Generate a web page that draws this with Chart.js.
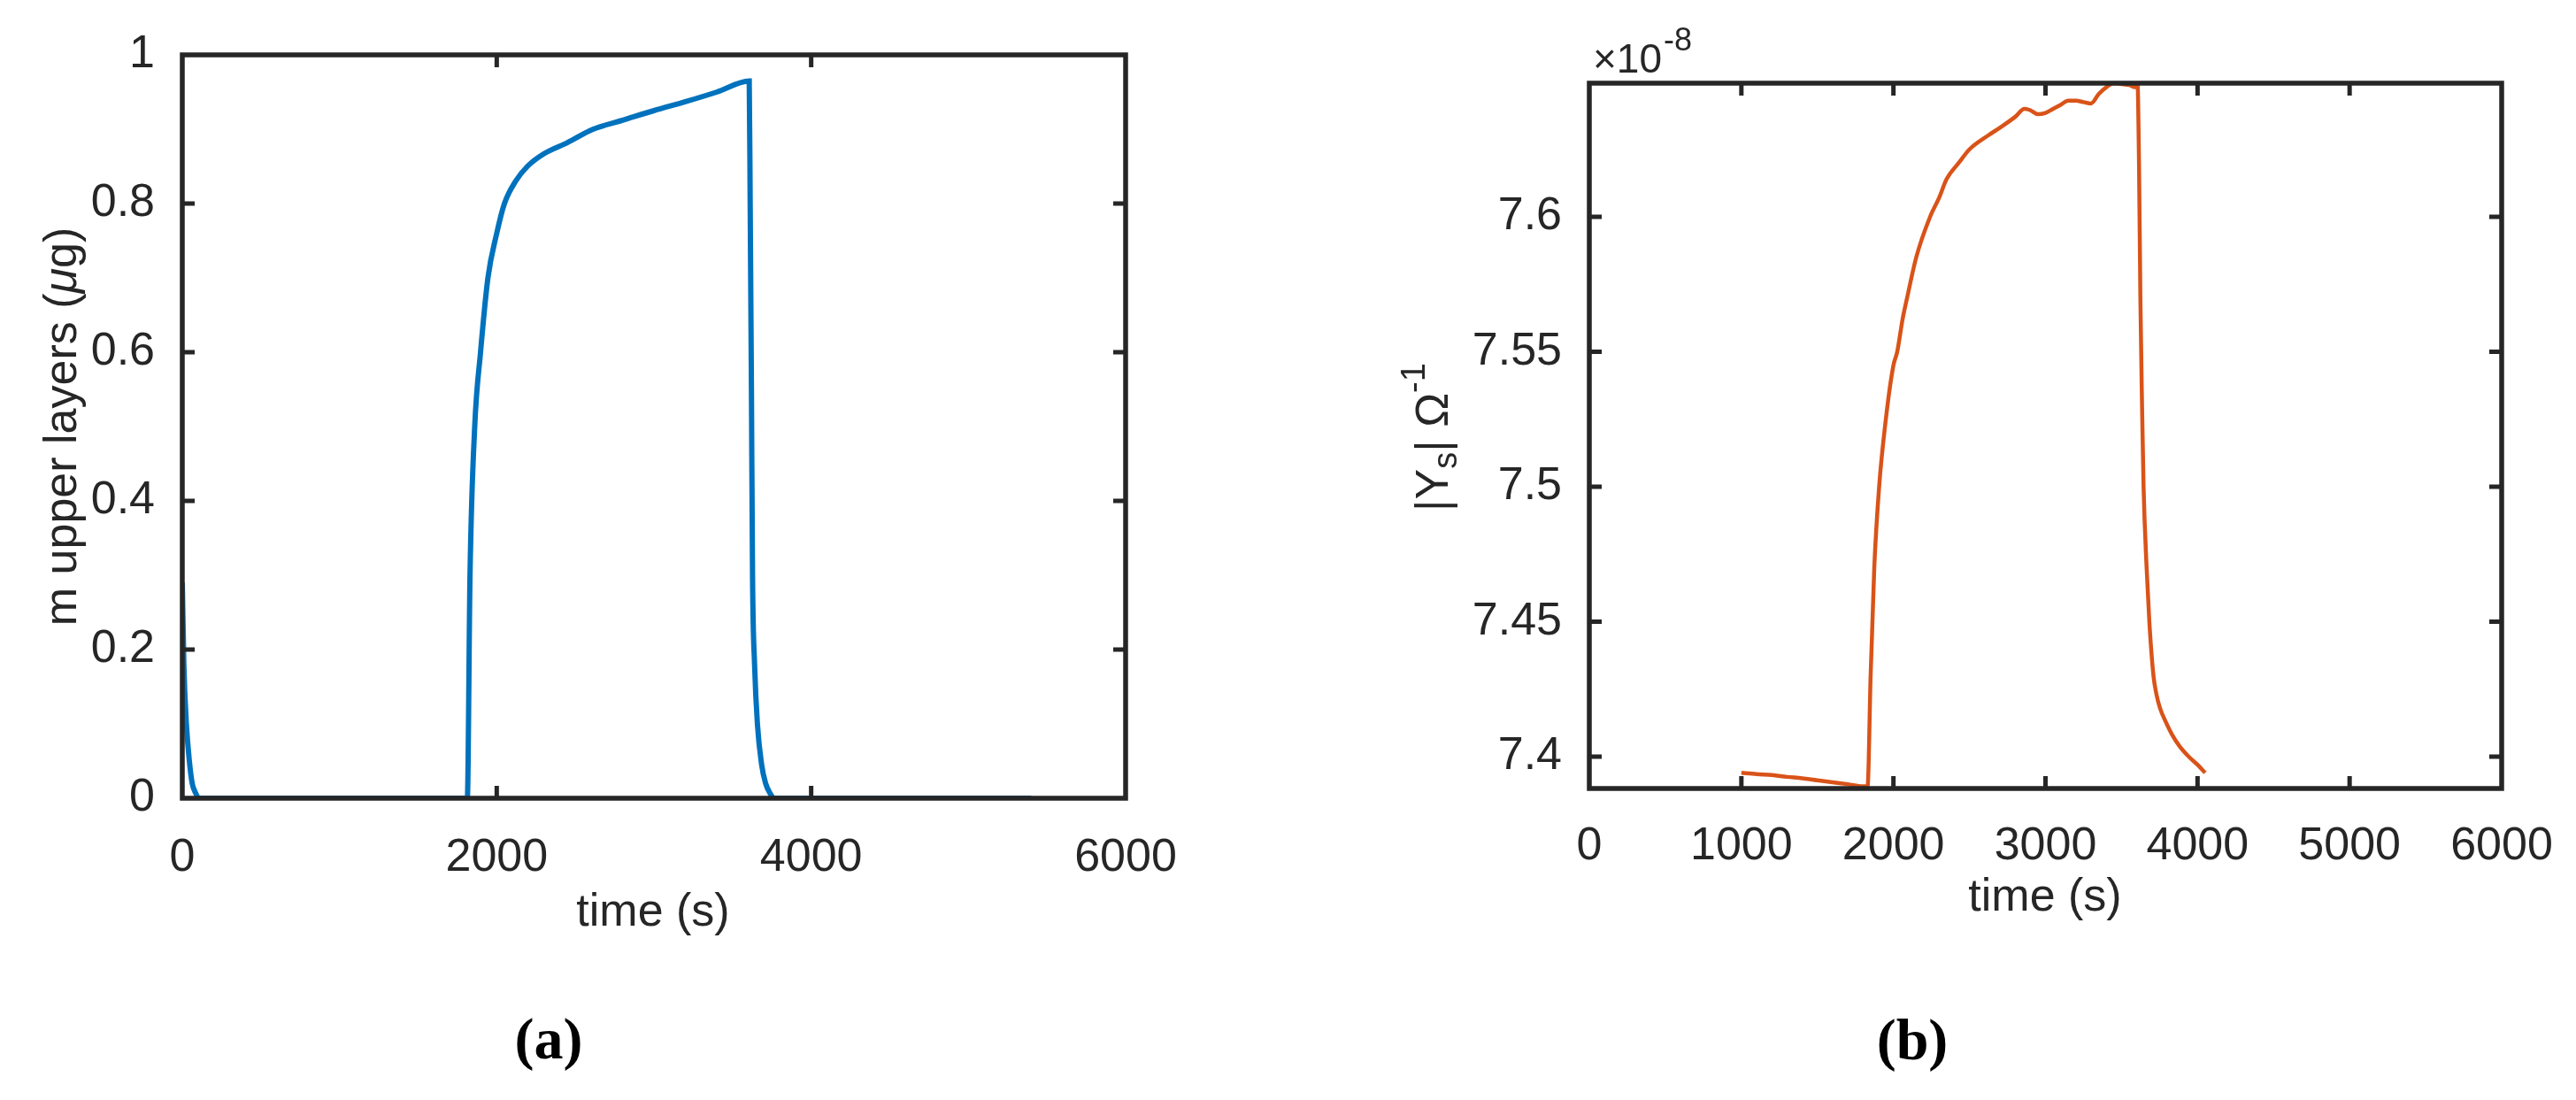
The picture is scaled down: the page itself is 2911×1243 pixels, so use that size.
<!DOCTYPE html>
<html><head><meta charset="utf-8">
<script src="https://cdn.jsdelivr.net/npm/chart.js@4/dist/chart.umd.min.js"></script>
<style>html,body{margin:0;padding:0;background:#fff;width:2911px;height:1243px;overflow:hidden}
canvas{position:absolute;left:0;top:0}</style></head>
<body>
<canvas id="ca" width="2911" height="1243"></canvas>
<canvas id="cb" width="2911" height="1243"></canvas>
<script>
// ---- data (a) ----
const timeA = [0,10,26,45,63,85,105,1000,1800,1813,1830,1860,1897,1944,2000,2049,2120,2195,2300,2450,2613,2800,3000,3200,3400,3606,3612,3620,3627,3640,3658,3685,3710,3740,3763,4500,5400];
const massA = [0.29,0.18,0.1,0.05,0.02,0.007,0,0,0,0,0.3,0.5,0.6,0.7,0.76,0.8,0.83,0.85,0.867,0.882,0.9,0.912,0.925,0.937,0.95,0.965,0.8,0.55,0.3,0.18,0.1,0.045,0.02,0.006,0,0,0];
const xTicksA = [0,2000,4000,6000];
const yTicksA = [0,0.2,0.4,0.6,0.8,1];
const yTickLabelsA = ["0","0.2","0.4","0.6","0.8","1"];
// ---- data (b) ----
const timeB = [1000,1100,1200,1300,1400,1500,1600,1700,1800,1830,1850,1874,1906,1950,2000,2025,2060,2090,2150,2241,2300,2350,2430,2500,2619,2700,2800,2862,2900,2950,3000,3050,3100,3150,3200,3250,3300,3350,3400,3450,3500,3550,3590,3605,3615,3624,3635,3645,3665,3683,3710,3730,3753,3790,3834,3880,3942,4000,4050];
const admB = [7.394,7.3935,7.3932,7.3925,7.392,7.3912,7.3905,7.3898,7.389,7.389,7.43,7.47,7.5,7.525,7.545,7.55,7.562,7.57,7.585,7.6,7.607,7.614,7.62,7.625,7.63,7.633,7.637,7.64,7.6395,7.638,7.6385,7.64,7.6415,7.643,7.643,7.6425,7.642,7.6455,7.648,7.6495,7.6492,7.6488,7.648,7.6495,7.62,7.57,7.53,7.5,7.47,7.45,7.43,7.423,7.418,7.413,7.408,7.404,7.4,7.397,7.394];
const xTicksB = [0,1000,2000,3000,4000,5000,6000];
const yTicksB = [7.4,7.45,7.5,7.55,7.6];
const yTickLabelsB = ["7.4","7.45","7.5","7.55","7.6"];

const INK = '#262626';
const FONT = '"Liberation Sans", Arial, sans-serif';
const FS = 52;

function framePlugin(drawExtra){
  return {id:'frame', afterDraw(chart){
    const ctx = chart.ctx, a = chart.chartArea, xs = chart.scales.x, ys = chart.scales.y;
    ctx.save();
    ctx.strokeStyle = INK; ctx.lineWidth = 5;
    const L = 14;
    xs.ticks.forEach(t=>{const p = xs.getPixelForValue(t.value);
      if (p<=a.left+2||p>=a.right-2) return;
      ctx.beginPath(); ctx.moveTo(p,a.bottom); ctx.lineTo(p,a.bottom-L); ctx.moveTo(p,a.top); ctx.lineTo(p,a.top+L); ctx.stroke();});
    ys.ticks.forEach(t=>{const p = ys.getPixelForValue(t.value);
      if (p<=a.top+2||p>=a.bottom-2) return;
      ctx.beginPath(); ctx.moveTo(a.left,p); ctx.lineTo(a.left+L,p); ctx.moveTo(a.right,p); ctx.lineTo(a.right-L,p); ctx.stroke();});
    ctx.lineWidth = 5.5;
    ctx.strokeRect(a.left,a.top,a.right-a.left,a.bottom-a.top);
    ctx.fillStyle = INK;
    drawExtra(ctx,a);
    ctx.restore();
  }};
}

function baseOptions(pad, yW, xH, xmin, xmax, ymin, ymax, xT, yT, yLab, xPad, yPad){
  return {
    responsive:false, devicePixelRatio:1, animation:false,
    layout:{padding:pad},
    plugins:{legend:{display:false}, tooltip:{enabled:false}},
    scales:{
      x:{type:'linear', min:xmin, max:xmax,
         afterBuildTicks(s){s.ticks = xT.map(v=>({value:v}));},
         afterFit(s){s.height = xH;},
         grid:{display:false}, border:{display:false},
         ticks:{color:INK, font:{family:FONT,size:FS}, padding:xPad, maxRotation:0, autoSkip:false,
                callback:v=>String(v)}},
      y:{type:'linear', min:ymin, max:ymax,
         afterBuildTicks(s){s.ticks = yT.map(v=>({value:v}));},
         afterFit(s){s.width = yW;},
         grid:{display:false}, border:{display:false},
         ticks:{color:INK, font:{family:FONT,size:FS}, padding:yPad, autoSkip:false,
                callback:(v,i)=>yLab[i]}}
    }
  };
}

// chart (a)
new Chart(document.getElementById('ca'), {
  type:'line',
  data:{datasets:[{data:timeA.map((t,i)=>({x:t,y:massA[i]})), borderColor:'#0072BD', borderWidth:6, pointRadius:0, cubicInterpolationMode:'monotone', fill:false}]},
  options:baseOptions({top:62,right:2911-1272,bottom:0,left:0}, 206, 1243-902, 0, 6000, 0, 1,
    xTicksA, yTicksA, yTickLabelsA, 28, 23),
  plugins:[framePlugin((ctx,a)=>{
    ctx.font = FS+'px '+FONT; ctx.textAlign='center'; ctx.textBaseline='middle';
    ctx.fillText('time (s)', 738, 1032);
    ctx.save(); ctx.translate(72,482); ctx.rotate(-Math.PI/2);
    const p1='m upper layers (', p2='\u03bc', p3='g)';
    ctx.font=FS+'px '+FONT; const w1=ctx.measureText(p1).width, w3=ctx.measureText(p3).width;
    ctx.font='italic '+FS+'px '+FONT; const w2=ctx.measureText(p2).width;
    let x=-(w1+w2+w3)/2; ctx.textAlign='left';
    ctx.font=FS+'px '+FONT; ctx.fillText(p1,x,0); x+=w1;
    ctx.font='italic '+FS+'px '+FONT; ctx.fillText(p2,x,0); x+=w2;
    ctx.font=FS+'px '+FONT; ctx.fillText(p3,x,0);
    ctx.restore();
    ctx.font='bold 66px "Liberation Serif", serif'; ctx.textAlign='center'; ctx.fillStyle='#000';
    ctx.fillText('(a)', 620, 1179);
  })]
});

// chart (b)
new Chart(document.getElementById('cb'), {
  type:'line',
  data:{datasets:[{data:timeB.map((t,i)=>({x:t,y:admB[i]})), borderColor:'#D95319', borderWidth:4.5, pointRadius:0, cubicInterpolationMode:'monotone', fill:false}]},
  options:baseOptions({top:94,right:2911-2827,bottom:0,left:0}, 1796, 1243-891, 0, 6000, 7.3882, 7.6495,
    xTicksB, yTicksB, yTickLabelsB, 26, 23),
  plugins:[framePlugin((ctx,a)=>{
    ctx.font = FS+'px '+FONT; ctx.textAlign='center'; ctx.textBaseline='middle';
    ctx.fillText('time (s)', 2311, 1015);
    ctx.save(); ctx.translate(1622,494); ctx.rotate(-Math.PI/2);
    const parts=[['|Y',FS,0],['s',38,14],['| \u03a9',FS,0],['-1',38,-22]];
    let tot=0; parts.forEach(p=>{ctx.font=p[1]+'px '+FONT; tot+=ctx.measureText(p[0]).width;});
    let x=-tot/2; ctx.textAlign='left';
    parts.forEach(p=>{ctx.font=p[1]+'px '+FONT; ctx.fillText(p[0],x,p[2]); x+=ctx.measureText(p[0]).width;});
    ctx.restore();
    ctx.textAlign='left'; ctx.textBaseline='alphabetic';
    ctx.font='46px '+FONT; ctx.fillText('\u00d710', 1800, 82);
    const w=ctx.measureText('\u00d710').width;
    ctx.font='36px '+FONT; ctx.fillText('-8', 1800+w+2, 57);
    ctx.font='bold 66px "Liberation Serif", serif'; ctx.textAlign='center'; ctx.textBaseline='middle'; ctx.fillStyle='#000';
    ctx.fillText('(b)', 2161, 1180);
  })]
});
</script>
</body></html>
